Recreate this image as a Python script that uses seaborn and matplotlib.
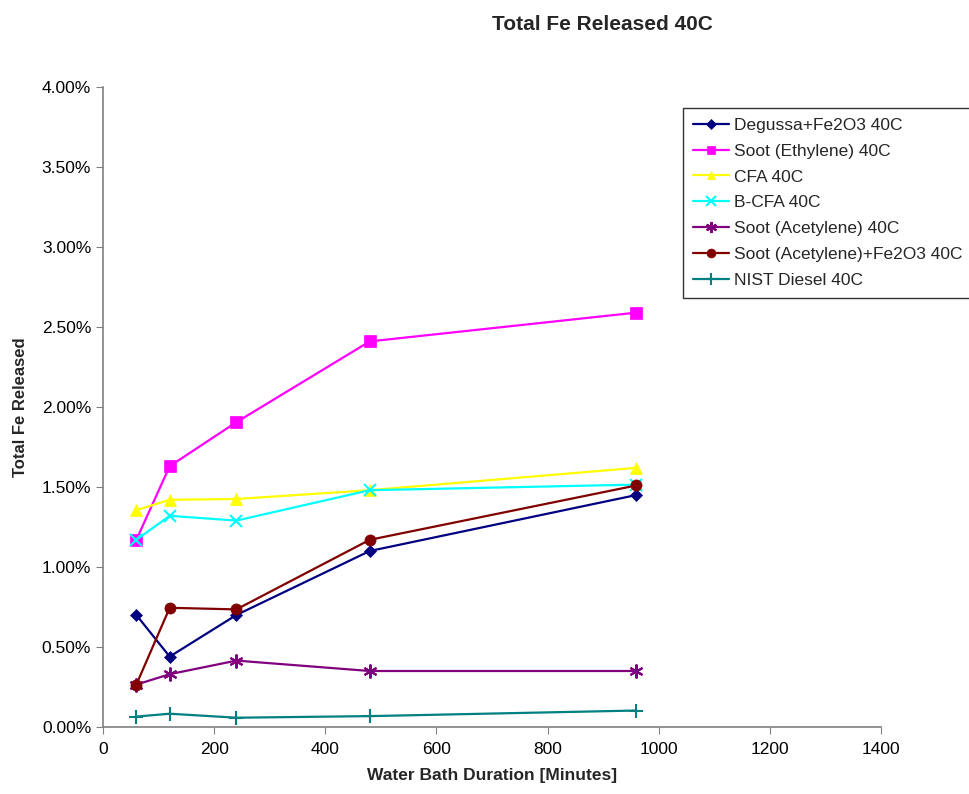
import matplotlib
matplotlib.use("Agg")
import matplotlib.pyplot as plt
import seaborn as sns
import pandas as pd
from matplotlib.ticker import PercentFormatter

minutes = [60, 120, 240, 480, 960]
series_names = ["Degussa+Fe2O3 40C", "Soot (Ethylene) 40C", "CFA 40C", "B-CFA 40C",
                "Soot (Acetylene) 40C", "Soot (Acetylene)+Fe2O3 40C", "NIST Diesel 40C"]
degussa = [0.70, 0.44, 0.70, 1.10, 1.45]
soot_ethylene = [1.17, 1.63, 1.905, 2.41, 2.59]
cfa = [1.355, 1.42, 1.425, 1.48, 1.62]
b_cfa = [1.17, 1.32, 1.29, 1.48, 1.515]
soot_acetylene = [0.265, 0.33, 0.415, 0.35, 0.35]
soot_acet_fe2o3 = [0.265, 0.745, 0.735, 1.17, 1.51]
nist_diesel = [0.065, 0.083, 0.058, 0.068, 0.103]

values = [degussa, soot_ethylene, cfa, b_cfa, soot_acetylene, soot_acet_fe2o3, nist_diesel]
colors = ["#000080", "#FF00FF", "#FFFF00", "#00FFFF", "#800080", "#800000", "#008080"]
markers = ["D", "s", "^", "x", (6, 2, 0), "o", "+"]
msizes = [6, 8, 8, 9, 10, 8, 10]

rows = []
for name, vals in zip(series_names, values):
    for m, v in zip(minutes, vals):
        rows.append({"Minutes": m, "Fe": v / 100.0, "Series": name})
df = pd.DataFrame(rows)

sns.set_style("white")
plt.rcParams["font.family"] = ["Liberation Sans", "DejaVu Sans"]

fig = plt.figure(figsize=(9.69, 7.94), dpi=100)
ax = fig.add_axes([103 / 969, 1 - 727 / 794, (881 - 103) / 969, (727 - 87) / 794])

for name, c, mk, ms in zip(series_names, colors, markers, msizes):
    sub = df[df["Series"] == name]
    thin = mk in ("x", "+") or isinstance(mk, tuple)
    sns.lineplot(data=sub, x="Minutes", y="Fe", ax=ax, color=c, marker=mk,
                 markersize=ms, markeredgecolor=c, markeredgewidth=1.5 if thin else 0.5,
                 linewidth=1.6, label=name, legend=False)

ax.set_xlim(0, 1400)
ax.set_ylim(0, 0.04)
ax.set_xticks(range(0, 1401, 200))
ax.set_yticks([i * 0.005 for i in range(9)])
ax.yaxis.set_major_formatter(PercentFormatter(1.0, decimals=2))
ax.tick_params(axis="both", labelsize=12.5, length=5, direction="out", labelcolor="black",
               color="#808080", left=True, bottom=True)
ax.tick_params(axis="x", pad=6)
for sp in ["top", "right"]:
    ax.spines[sp].set_visible(False)
for sp in ["left", "bottom"]:
    ax.spines[sp].set_color("#808080")
    ax.spines[sp].set_linewidth(1.2)

ax.set_xlabel("Water Bath Duration [Minutes]", fontsize=12.5, fontweight="bold", labelpad=8)
ax.set_ylabel("Total Fe Released", fontsize=12, fontweight="bold", labelpad=10)
fig.text(602 / 969, 1 - 25 / 794, "Total Fe Released 40C", ha="center", va="center",
         fontsize=15, fontweight="bold")

handles, labels = ax.get_legend_handles_labels()
leg = fig.legend(handles, labels, loc="upper left", bbox_to_anchor=(683 / 969, 1 - 108 / 794),
                 frameon=True, fontsize=12.5, handlelength=2.1, borderpad=0.55,
                 labelspacing=0.62, handletextpad=0.3, fancybox=False, borderaxespad=0,
                 markerscale=0.8)
leg.get_frame().set_edgecolor("black")
leg.get_frame().set_linewidth(1.0)

fig.savefig("out.png", dpi=100)
